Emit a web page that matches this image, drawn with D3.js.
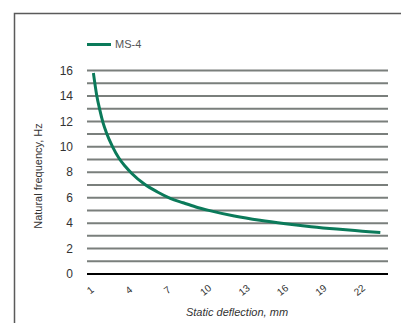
<!DOCTYPE html>
<html>
<head>
<meta charset="utf-8">
<script src="https://cdn.jsdelivr.net/npm/d3@7"></script>
<style>
  body { margin: 0; background: #fff; }
  svg text { font-family: "Liberation Sans", Arial, sans-serif; fill: #333; }
</style>
</head>
<body>
<div id="chart"></div>
<script>
// static deflection (mm) vs natural frequency (Hz)
const deflection = [1, 1.25, 1.5, 1.75, 2, 2.5, 3, 3.5, 4, 5, 6, 7, 8, 9, 10, 12, 14, 16, 18, 20, 22, 23.4];
const frequency  = [15.8, 14.1, 12.9, 11.9, 11.15, 10.0, 9.1, 8.45, 7.9, 7.05, 6.45, 5.95, 5.6, 5.27, 5.0, 4.56, 4.22, 3.95, 3.72, 3.53, 3.37, 3.26];
const xTicks = [1, 4, 7, 10, 13, 16, 19, 22];
const yTicks = [0, 2, 4, 6, 8, 10, 12, 14, 16];
const gridValues = d3.range(1, 17);
const seriesName = 'MS-4';

const width = 401, height = 323;
const svg = d3.select('#chart').append('svg')
    .attr('width', width)
    .attr('height', height);

const x = d3.scaleLinear().domain([0.5, 24]).range([87, 388]);
const y = d3.scaleLinear().domain([0, 16]).range([274, 70.5]);

// frame (cropped box)
svg.append('path')
    .attr('d', `M14.5,${height} V13.5 H${width}`)
    .attr('fill', 'none')
    .attr('stroke', '#5a5a5a')
    .attr('stroke-width', 1.5);

// gridlines
svg.append('g').selectAll('line')
    .data(gridValues)
    .enter().append('line')
    .attr('x1', x.range()[0])
    .attr('x2', x.range()[1])
    .attr('y1', d => y(d))
    .attr('y2', d => y(d))
    .attr('stroke', '#7a7f7c')
    .attr('stroke-width', 2);

// base axis
svg.append('line')
    .attr('x1', x.range()[0])
    .attr('x2', x.range()[1])
    .attr('y1', y(0))
    .attr('y2', y(0))
    .attr('stroke', '#000')
    .attr('stroke-width', 2);

// y tick labels
svg.append('g').selectAll('text')
    .data(yTicks)
    .enter().append('text')
    .attr('x', 73)
    .attr('y', d => y(d))
    .attr('dy', '0.35em')
    .attr('text-anchor', 'end')
    .style('font-size', '12px')
    .text(d => d);

// x tick labels, rotated
svg.append('g').selectAll('text')
    .data(xTicks)
    .enter().append('text')
    .attr('transform', d => `translate(${x(d) - 3},${290}) rotate(-38)`)
    .attr('text-anchor', 'middle')
    .attr('dy', '0.35em')
    .style('font-size', '10px')
    .text(d => d);

// axis titles
svg.append('text')
    .attr('transform', `translate(42,176) rotate(-90)`)
    .attr('text-anchor', 'middle')
    .style('font-size', '11px')
    .text('Natural frequency, Hz');

svg.append('text')
    .attr('x', 237)
    .attr('y', 316)
    .attr('text-anchor', 'middle')
    .style('font-size', '11px')
    .style('font-style', 'italic')
    .text('Static deflection, mm');

// curve
const line = d3.line()
    .x((d, i) => x(deflection[i]))
    .y(d => y(d))
    .curve(d3.curveMonotoneX);

svg.append('path')
    .datum(frequency)
    .attr('d', line)
    .attr('fill', 'none')
    .attr('stroke', '#0b7a5a')
    .attr('stroke-width', 3);

// legend
const legend = svg.append('g').attr('transform', 'translate(87,44.5)');
legend.append('line')
    .attr('x1', 0).attr('x2', 24)
    .attr('stroke', '#0b7a5a')
    .attr('stroke-width', 3);
legend.append('text')
    .attr('x', 28)
    .attr('dy', '0.35em')
    .style('font-size', '11px')
    .style('fill', '#555')
    .text(seriesName);
</script>
</body>
</html>
